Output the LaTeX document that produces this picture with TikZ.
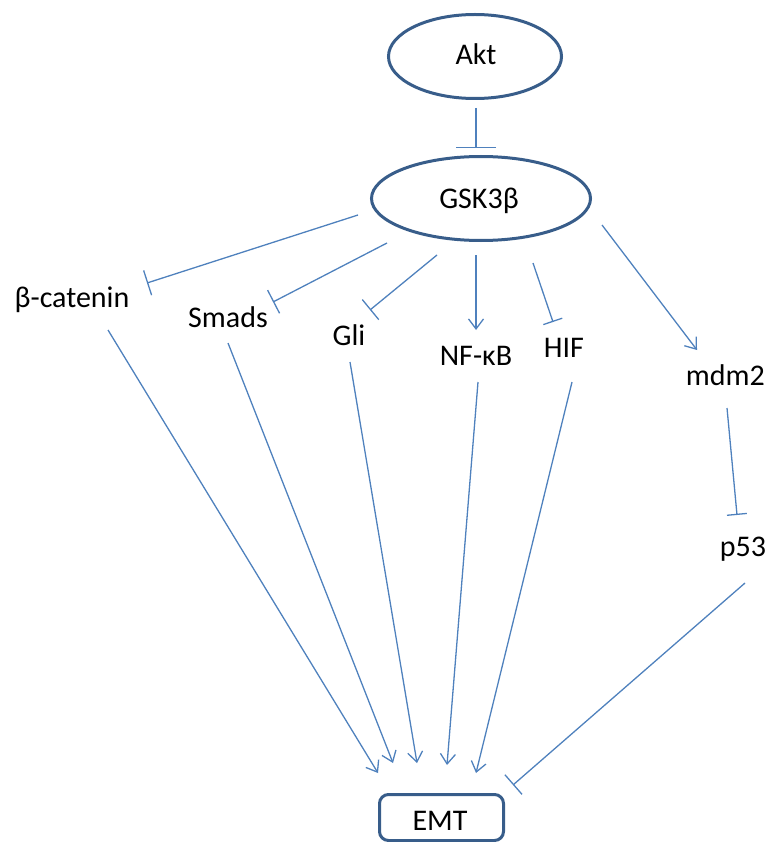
\documentclass[tikz,border=0pt]{standalone}
\usepackage{fontspec}
\setmainfont{Carlito}
\usetikzlibrary{arrows.meta,shapes.geometric}
\definecolor{lineblue}{HTML}{4F81BD}
\definecolor{boxblue}{HTML}{385D8A}
\begin{document}
\begin{tikzpicture}[x=1pt,y=-1pt,
  font=\fontsize{30}{36}\selectfont,
  conn/.style={draw=lineblue, line width=1.3pt},
  act/.style={conn, -{Straight Barb[length=10pt,width=15pt]}},
  inh/.style={conn, -{Bar[width=26pt]}},
  lbl/.style={anchor=base, inner sep=0pt},
  oval/.style={ellipse, draw=boxblue, line width=3pt, inner sep=0pt}]
\useasboundingbox (0,0) rectangle (769,842);

% main nodes
\node[oval, minimum width=173pt, minimum height=84pt] (akt) at (475,56.5) {};
\node[lbl] (akttxt) at (476,65) {Akt};
\node[oval, minimum width=219pt, minimum height=84pt] (gsk) at (481,198.5) {};
\node[lbl] (gsktxt) at (479,209) {GSK3β};
\draw[boxblue, line width=3pt, rounded corners=9pt] (379.5,794.5) rectangle (503.5,840.5);
\node[lbl] (emt) at (440,830) {EMT};

% targets
\node[lbl] (bc) at (72,307) {β-catenin};
\node[lbl] (smads) at (228,327) {Smads};
\node[lbl] (gli) at (349,345) {Gli};
\node[lbl] (nfkb) at (476,365) {NF-κB};
\node[lbl] (hif) at (564,357) {HIF};
\node[lbl, anchor=base east] (mdm2) at (765,385) {mdm2};
\node[lbl] (p53) at (743,556) {p53};

% connector end points
\coordinate (a1) at (476,108);  \coordinate (g0) at (476,148);
\coordinate (g1) at (358,215);  \coordinate (b0) at (147,283);
\coordinate (g2) at (387,243);  \coordinate (s0) at (273,302);
\coordinate (g3) at (437,255);  \coordinate (l0) at (370,310);
\coordinate (g4) at (476,255);  \coordinate (n0) at (476,330);
\coordinate (g5) at (533,263);  \coordinate (h0) at (553,322);
\coordinate (g6) at (602,225);  \coordinate (m0) at (697,350);
\coordinate (m1) at (727,408);  \coordinate (p0) at (737,515);
\coordinate (p1) at (745,583);  \coordinate (e7) at (513,785);
\coordinate (b1) at (108,330);  \coordinate (e1) at (378,773);
\coordinate (s1) at (228,343);  \coordinate (e2) at (393,763);
\coordinate (l1) at (350,362);  \coordinate (e3) at (417,763);
\coordinate (n1) at (478,382);  \coordinate (e4) at (447,765);
\coordinate (h1) at (572,382);  \coordinate (e5) at (476,773);

\draw[conn, -{Bar[width=40pt]}] (a1) -- (g0);
\draw[inh] (g1) -- (b0);
\draw[inh] (g2) -- (s0);
\draw[inh] (g3) -- (l0);
\draw[act] (g4) -- (n0);
\draw[conn, -{Bar[width=20pt]}] (g5) -- (h0);
\draw[act] (g6) -- (m0);
\draw[conn, -{Bar[width=20pt]}] (m1) -- (p0);
\draw[inh] (p1) -- (e7);
\draw[act] (b1) -- (e1);
\draw[act] (s1) -- (e2);
\draw[act] (l1) -- (e3);
\draw[act] (n1) -- (e4);
\draw[act] (h1) -- (e5);
\end{tikzpicture}
\end{document}
